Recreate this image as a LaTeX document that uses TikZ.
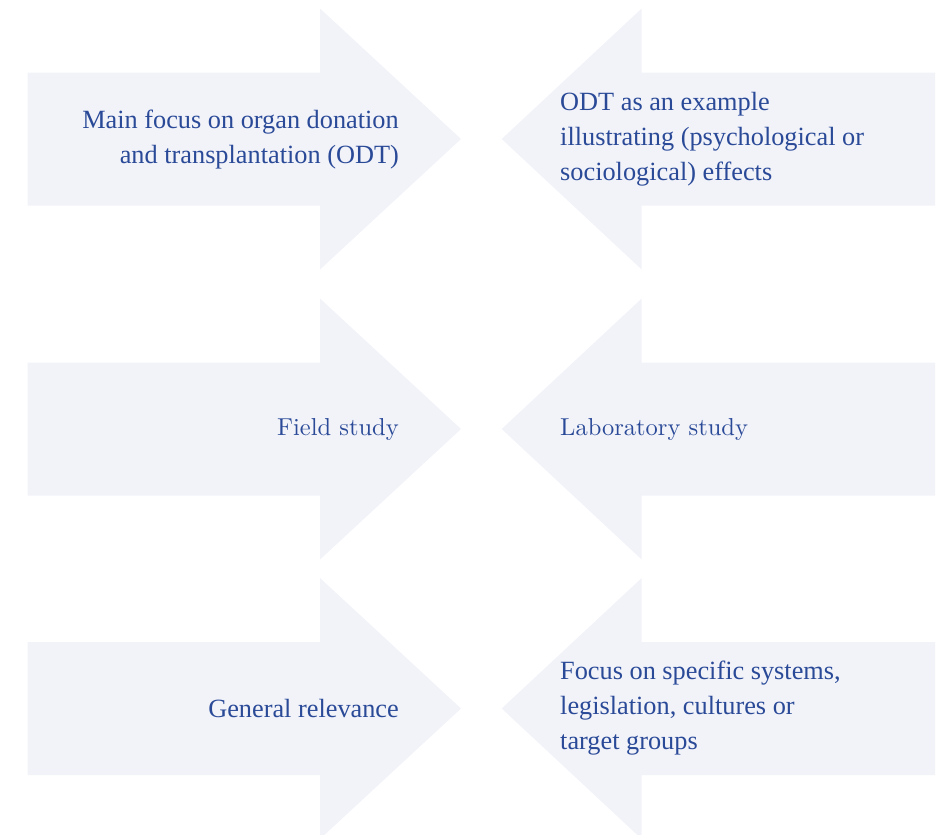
\documentclass[tikz,border=0pt]{standalone}
\usepackage{fontspec}
\usepackage{graphicx}
\newfontfamily\serifA{Liberation Serif}
\definecolor{arrowfill}{RGB}{242,243,249}
\definecolor{textblue}{RGB}{42,74,152}
\newcommand{\lmbig}[1]{\scalebox{2.45}{\fontsize{10}{12}\selectfont #1}}
\begin{document}
\begin{tikzpicture}[x=1pt,y=-1pt,
  arrowshape/.style={fill=arrowfill,draw=none},
  lbl/.style={text=textblue,inner sep=0pt,font=\serifA\fontsize{26.3}{35}\selectfont},
  lblm/.style={text=textblue,inner sep=0pt},
]
\useasboundingbox (0,0) rectangle (945,835);
\clip (0,0) rectangle (945,835);
\foreach \c in {139,429,708.5}{
  \fill[arrowshape] (27.7,\c-66.5) -- (320,\c-66.5) -- (320,\c-130.5) -- (461,\c)
     -- (320,\c+130.5) -- (320,\c+66.5) -- (27.7,\c+66.5) -- cycle;
  \fill[arrowshape] (935,\c-66.5) -- (641.7,\c-66.5) -- (641.7,\c-130.5) -- (501.7,\c)
     -- (641.7,\c+130.5) -- (641.7,\c+66.5) -- (935,\c+66.5) -- cycle;
}
\node[lbl,anchor=east,align=right] (t1) at (399,139.5) {Main focus on organ donation\\and transplantation (ODT)};
\node[lbl,anchor=west,align=left] (t2) at (560,139.5) {ODT as an example\\illustrating (psychological or\\sociological) effects};
\node[lblm,anchor=east] (t3) at (399,430) {\lmbig{Field study}};
\node[lblm,anchor=west] (t4) at (560,430) {\lmbig{Laboratory study}};
\node[lbl,anchor=east] (t5) at (399,708) {General relevance};
\node[lbl,anchor=west,align=left] (t6) at (560,708) {Focus on specific systems,\\legislation, cultures or\\target groups};
\end{tikzpicture}
\end{document}
